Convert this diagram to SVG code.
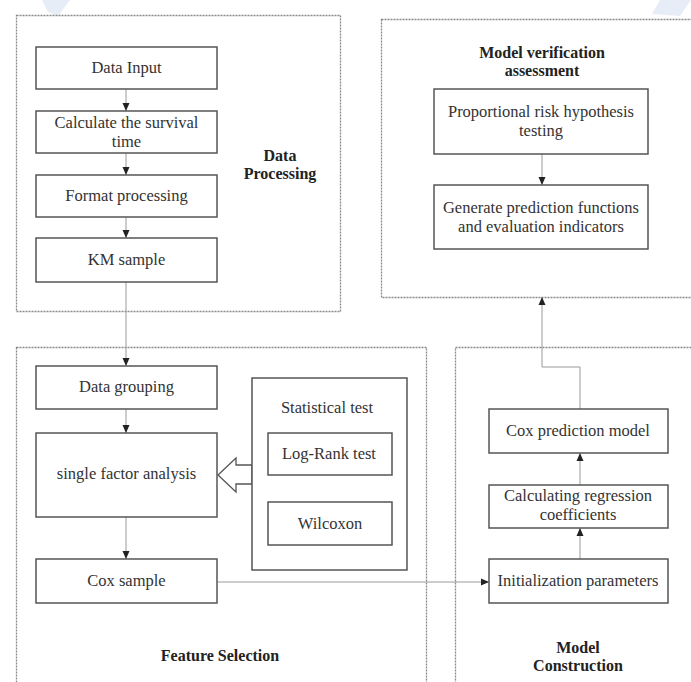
<svg xmlns="http://www.w3.org/2000/svg" width="691" height="682" viewBox="0 0 691 682">
<style>
.grp{fill:none;stroke:#8a8a8a;stroke-width:1.3;stroke-dasharray:2 1}
.box{fill:#fff;stroke:#555;stroke-width:1.5}
.t{font-family:"Liberation Serif","Times New Roman",serif;font-size:16.5px;fill:#333;text-anchor:middle}
.b{font-weight:bold;fill:#222;font-size:16px}
.c{fill:none;stroke:#9a9a9a;stroke-width:1}
</style>
<defs>
<marker id="ah" viewBox="0 0 8 8" refX="8" refY="4" markerWidth="8" markerHeight="8" markerUnits="userSpaceOnUse" orient="auto">
<path d="M0,0.5 L8,4 L0,7.5 Z" fill="#222"/>
</marker>
</defs>
<rect width="691" height="682" fill="#fff"/>
<polygon points="42,0 70,0 58,16 48,12" fill="#dbe6f2" opacity="0.7"/>
<polygon points="660,0 691,0 680,16 652,14" fill="#dbe6f2" opacity="0.7"/>

<g id="group-data-processing">
<rect class="grp" x="16.5" y="15.5" width="324" height="296"/>
<text class="t b" x="280" y="161">Data</text>
<text class="t b" x="280" y="179">Processing</text>
</g>
<g id="group-model-verification">
<rect class="grp" x="381.5" y="19.5" width="320" height="278"/>
<text class="t b" x="542" y="58">Model verification</text>
<text class="t b" x="542" y="76">assessment</text>
</g>
<g id="group-feature-selection">
<rect class="grp" x="16.5" y="347.5" width="410" height="350"/>
<text class="t b" x="220" y="661">Feature Selection</text>
</g>
<g id="group-model-construction">
<rect class="grp" x="455.5" y="347.5" width="250" height="350"/>
<text class="t b" x="578" y="653">Model</text>
<text class="t b" x="578" y="671">Construction</text>
</g>

<g id="connectors">
<line class="c" x1="126" y1="89" x2="126" y2="111" marker-end="url(#ah)"/>
<line class="c" x1="126" y1="153" x2="126" y2="175" marker-end="url(#ah)"/>
<line class="c" x1="126" y1="217" x2="126" y2="238" marker-end="url(#ah)"/>
<line class="c" x1="126" y1="282" x2="126" y2="366" marker-end="url(#ah)"/>
<line class="c" x1="126" y1="409" x2="126" y2="433" marker-end="url(#ah)"/>
<line class="c" x1="126" y1="517" x2="126" y2="559" marker-end="url(#ah)"/>
<line class="c" x1="217" y1="582" x2="489" y2="582" marker-end="url(#ah)"/>
<line class="c" x1="580" y1="559" x2="580" y2="528" marker-end="url(#ah)"/>
<line class="c" x1="580" y1="485" x2="580" y2="453" marker-end="url(#ah)"/>
<polyline class="c" points="580,409 580,367 542,367 542,297" marker-end="url(#ah)"/>
<line class="c" x1="542" y1="154" x2="542" y2="185" marker-end="url(#ah)"/>
<polygon points="252,465 236,465 236,458 218,475 236,492 236,484 252,484" fill="#fff" stroke="#555" stroke-width="1.3"/>
</g>

<g id="node-data-input"><rect class="box" x="36" y="47" width="181" height="42"/><text class="t" x="126.5" y="73">Data Input</text></g>
<g id="node-survival-time"><rect class="box" x="36" y="111" width="181" height="42"/><text class="t" x="126.5" y="128">Calculate the survival</text><text class="t" x="126.5" y="147">time</text></g>
<g id="node-format"><rect class="box" x="36" y="175" width="181" height="42"/><text class="t" x="126.5" y="201">Format processing</text></g>
<g id="node-km"><rect class="box" x="36" y="238" width="181" height="44"/><text class="t" x="126.5" y="265">KM sample</text></g>

<g id="node-proportional"><rect class="box" x="434" y="89" width="214" height="65"/><text class="t" x="541" y="117">Proportional risk hypothesis</text><text class="t" x="541" y="136">testing</text></g>
<g id="node-generate"><rect class="box" x="434" y="185" width="214" height="64"/><text class="t" x="541" y="213">Generate prediction functions</text><text class="t" x="541" y="232">and evaluation indicators</text></g>

<g id="node-data-grouping"><rect class="box" x="36" y="366" width="181" height="43"/><text class="t" x="126.5" y="392">Data grouping</text></g>
<g id="node-single-factor"><rect class="box" x="36" y="433" width="181" height="84"/><text class="t" x="126.5" y="479">single factor analysis</text></g>
<g id="node-cox-sample"><rect class="box" x="36" y="559" width="181" height="44"/><text class="t" x="126.5" y="586">Cox sample</text></g>

<g id="node-statistical-test"><rect class="box" x="252" y="378" width="155" height="192"/><text class="t" x="327" y="413">Statistical test</text></g>
<g id="node-logrank"><rect class="box" x="268" y="433" width="124" height="42"/><text class="t" x="329" y="459">Log-Rank test</text></g>
<g id="node-wilcoxon"><rect class="box" x="268" y="502" width="124" height="43"/><text class="t" x="330" y="529">Wilcoxon</text></g>

<g id="node-cox-model"><rect class="box" x="489" y="409" width="179" height="44"/><text class="t" x="578" y="436">Cox prediction model</text></g>
<g id="node-regression"><rect class="box" x="489" y="485" width="179" height="43"/><text class="t" x="578" y="501">Calculating regression</text><text class="t" x="578" y="520">coefficients</text></g>
<g id="node-init"><rect class="box" x="489" y="559" width="179" height="44"/><text class="t" x="578" y="586">Initialization parameters</text></g>
</svg>
